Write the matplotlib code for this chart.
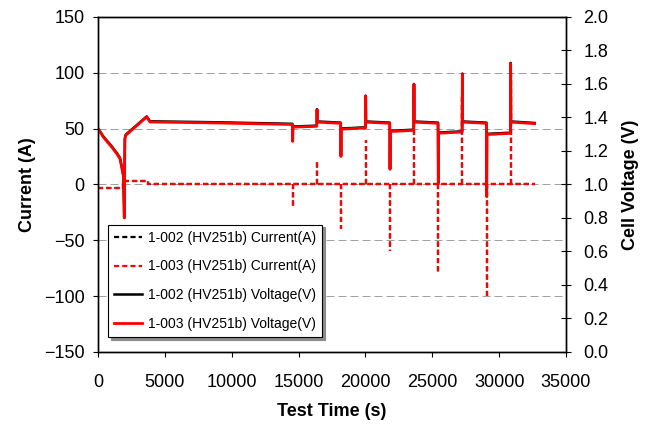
import matplotlib
matplotlib.use("Agg")
import matplotlib.pyplot as plt
from matplotlib.ticker import FormatStrFormatter

plt.rcParams["font.family"] = ["Liberation Sans", "DejaVu Sans"]

# cell voltage traces (s, V)
volt_t = [0, 396, 1025, 1399, 1645, 1772, 1900, 1967, 2010, 2072, 3642, 3889, 9000,
          14540, 14560, 14580, 16360, 16380, 16400, 18150, 18170, 18190,
          20000, 20020, 20040, 21820, 21840, 21860, 23610, 23630, 23650,
          25430, 25450, 25470, 27230, 27250, 27270, 29050, 29070, 29090,
          30840, 30860, 30880, 32650]
volt_003 = [1.333, 1.283, 1.223, 1.184, 1.153, 1.104, 1.050, 0.800, 1.270, 1.293, 1.403, 1.373, 1.367,
            1.358, 1.257, 1.342, 1.347, 1.447, 1.372, 1.365, 1.167, 1.330,
            1.337, 1.527, 1.372, 1.365, 1.090, 1.316, 1.323, 1.597, 1.372,
            1.365, 1.007, 1.306, 1.313, 1.659, 1.372, 1.365, 0.928, 1.298,
            1.305, 1.723, 1.372, 1.363]
volt_002 = [1.336, 1.287, 1.228, 1.189, 1.158, 1.108, 1.050, 0.800, 1.274, 1.297, 1.406, 1.377, 1.371,
            1.362, 1.260, 1.346, 1.351, 1.450, 1.376, 1.369, 1.170, 1.334,
            1.341, 1.530, 1.376, 1.369, 1.093, 1.320, 1.327, 1.600, 1.376,
            1.369, 1.010, 1.310, 1.317, 1.662, 1.376, 1.369, 0.931, 1.302,
            1.309, 1.726, 1.376, 1.367]

# current: baseline steps, then short pulses (s, A)
base_t = [0, 1870, 1870, 3740, 3740, 32650]
base_i = [-3, -3, 3, 3, 0, 0]
pulse_t = [14560, 16380, 18170, 20020, 21840, 23630, 25450, 27250, 29070, 30860]
pulse_a = [-20, 20, -40, 40, -60, 60, -80, 80, -100, 100]

labels = ["1-002 (HV251b) Current(A)", "1-003 (HV251b) Current(A)",
          "1-002 (HV251b) Voltage(V)", "1-003 (HV251b) Voltage(V)"]

DASH = (0, (2.3, 1.4))


def main() -> None:
    fig = plt.figure(figsize=(6.52, 4.24), dpi=100)
    ax = fig.add_axes([0.1503, 0.170, 0.7178, 0.790])
    ax2 = ax.twinx()

    # current traces: 1-002 sits underneath 1-003
    h1, = ax.plot(base_t, base_i, color="black", lw=1.6, ls=DASH)
    ax.vlines(pulse_t, 0, pulse_a, color="black", lw=1.6, ls=DASH)
    h2, = ax.plot(base_t, base_i, color="red", lw=1.6, ls=DASH)
    ax.vlines(pulse_t, 0, pulse_a, color="red", lw=1.6, ls=DASH)

    h3, = ax2.plot(volt_t, volt_002, color="black", lw=1.8)
    h4, = ax2.plot(volt_t, volt_003, color="red", lw=2.0)

    ax.set_xlim(0, 35000)
    ax.set_ylim(-150, 150)
    ax.set_xticks(range(0, 35001, 5000))
    ax.set_yticks(range(-150, 151, 50))
    ax2.set_ylim(0, 2.0)
    ax2.set_yticks([x / 10 for x in range(0, 21, 2)])
    ax2.yaxis.set_major_formatter(FormatStrFormatter("%.1f"))

    ax.yaxis.grid(True, color="#a0a0a0", lw=0.72, ls=(0, (8, 4)))
    ax.set_axisbelow(True)

    for a in (ax, ax2):
        for s in a.spines.values():
            s.set_linewidth(1.0)
    ax.tick_params(axis="both", direction="out", length=3.6, width=0.8, labelsize=13)
    ax.tick_params(axis="y", pad=6)
    ax.tick_params(axis="x", pad=12)
    ax2.tick_params(axis="y", direction="inout", length=7, width=0.8, labelsize=13, pad=9)

    ax.set_xlabel("Test Time (s)", fontsize=13, fontweight="bold", labelpad=9)
    ax.set_ylabel("Current (A)", fontsize=13, fontweight="bold", labelpad=6)
    ax2.set_ylabel("Cell Voltage (V)", fontsize=13, fontweight="bold", labelpad=10)

    leg = ax2.legend([h1, h2, h3, h4], labels, loc="lower left",
                     bbox_to_anchor=(0.0214, 0.045), borderaxespad=0,
                     fontsize=10, fancybox=False, framealpha=1,
                     edgecolor="black", handlelength=2.0, handletextpad=0.4,
                     labelspacing=1.05, borderpad=0.45,
                     shadow={"color": "0.55", "alpha": 1.0})
    leg.get_frame().set_linewidth(0.8)

    fig.savefig("out.png", dpi=100)


if __name__ == "__main__":
    main()
